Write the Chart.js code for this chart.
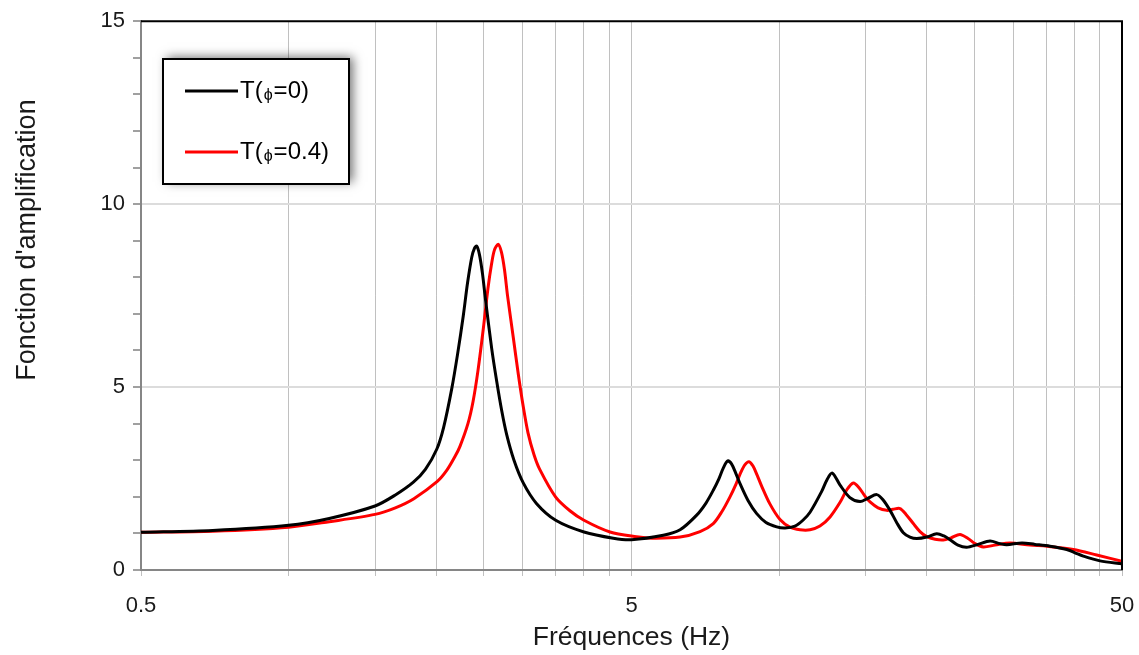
<!DOCTYPE html>
<html><head><meta charset="utf-8">
<script src="https://cdn.jsdelivr.net/npm/chart.js@4.4.1/dist/chart.umd.min.js"></script>
<style>html,body{margin:0;padding:0;background:#fff;} #wrap{width:1139px;height:655px;}</style>
</head><body><div id="wrap"><canvas id="c" width="1139" height="655"></canvas></div>
<script>
// ---- data ----
const seriesNames = ['T(ϕ=0)', 'T(ϕ=0.4)'];
const freqBlack = [0.5,0.7,1.0,1.21,1.5,1.65,1.796,1.9,2.004,2.07,2.15,2.21,2.27,2.316,2.362,2.393,2.418,2.449,2.484,2.519,2.594,2.656,2.719,2.783,2.88,3.008,3.2,3.503,4.0,4.59,5.0,5.805,6.281,6.79,7.093,7.34,7.54,7.70,7.855,7.996,8.148,8.322,8.64,9.0,9.401,9.885,10.28,10.77,11.18,11.56,12.21,12.52,12.83,13.31,13.94,14.62,15.17,15.81,16.28,16.83,17.39,17.91,18.48,19.08,20.0,20.95,21.68,22.3,23.15,24.12,25.43,26.91,28.2,29.1,31.27,33.23,35.66,38.57,40.11,41.7,45.1,50];
const ampBlack  = [1.03,1.08,1.22,1.41,1.75,2.05,2.4,2.75,3.3,3.9,4.95,5.9,6.95,7.85,8.55,8.8,8.85,8.62,8.1,7.4,6.05,5.15,4.35,3.7,3.0,2.38,1.82,1.36,1.04,0.87,0.83,0.95,1.1,1.5,1.83,2.18,2.5,2.8,2.98,2.9,2.66,2.36,1.9,1.54,1.3,1.18,1.15,1.2,1.36,1.58,2.15,2.47,2.65,2.32,1.98,1.87,1.96,2.06,1.92,1.63,1.28,1.02,0.9,0.86,0.9,0.99,0.93,0.83,0.68,0.62,0.7,0.79,0.72,0.69,0.74,0.7,0.65,0.56,0.47,0.38,0.25,0.17];
const freqRed = [0.5,0.7,1.0,1.21,1.5,1.65,1.8,2.0095,2.1,2.183,2.235,2.32,2.376,2.432,2.494,2.549,2.591,2.628,2.675,2.716,2.755,2.794,2.871,2.939,3.005,3.076,3.164,3.25,3.5,3.745,4.0,4.52,5.12,5.5,6.281,6.898,7.34,7.646,7.939,8.167,8.361,8.519,8.68,8.845,9.013,9.206,9.58,10.04,10.52,11.03,11.56,12.11,12.70,13.31,13.75,14.17,14.55,14.96,15.32,15.91,16.57,17.07,17.64,18.14,18.77,19.37,20.0,20.79,21.61,22.41,23.37,24.27,25.08,26.07,27.54,29.57,32.47,35.16,39.79,44.4,50];
const ampRed   = [1.03,1.06,1.17,1.32,1.52,1.7,1.95,2.42,2.72,3.1,3.38,4.0,4.6,5.45,6.6,7.7,8.35,8.75,8.9,8.68,8.2,7.5,6.35,5.35,4.5,3.75,3.15,2.75,2.0,1.62,1.36,1.04,0.91,0.87,0.9,1.05,1.27,1.6,2.0,2.35,2.68,2.88,2.96,2.84,2.6,2.3,1.8,1.38,1.17,1.1,1.10,1.2,1.45,1.85,2.2,2.38,2.25,2.02,1.86,1.7,1.63,1.66,1.68,1.52,1.27,1.05,0.91,0.84,0.82,0.88,0.97,0.86,0.72,0.63,0.68,0.74,0.68,0.65,0.56,0.41,0.24];
const xTickValues = [0.5,1,1.5,2,2.5,3,3.5,4,4.5,5,10,15,20,25,30,35,40,45,50];
const xLabelValues = [0.5,5,50];
const yLabelValues = [0,5,10,15];
const xTitle = 'Fréquences (Hz)';
const yTitle = "Fonction d'amplification";
const seriesColors = ['#000000', '#ff0000'];

const FONT = "'Liberation Sans', Arial, sans-serif";
Chart.defaults.font.family = FONT;
Chart.defaults.color = '#1a1a1a';

function pts(xs, ys){ return xs.map((x,i)=>({x:x, y:ys[i]})); }

const framePlugin = {
  id:'frame',
  afterDatasetsDraw(chart){
    const a = chart.chartArea, ctx = chart.ctx;
    ctx.save();
    ctx.strokeStyle = '#000'; ctx.lineWidth = 2;
    ctx.beginPath();
    ctx.moveTo(a.left, a.top); ctx.lineTo(a.right, a.top); ctx.lineTo(a.right, a.bottom);
    ctx.stroke();
    ctx.restore();
  }
};

const yTitlePlugin = {
  id:'ytitle',
  afterDraw(chart){
    const ctx = chart.ctx;
    ctx.save();
    ctx.translate(28, 240);
    ctx.rotate(-Math.PI/2);
    ctx.font = '27px ' + FONT;
    ctx.fillStyle = '#1a1a1a';
    ctx.textAlign = 'center'; ctx.textBaseline = 'middle';
    ctx.fillText(yTitle, 0, 0);
    ctx.restore();
  }
};

const legendPlugin = {
  id:'boxlegend',
  afterDraw(chart){
    const ctx = chart.ctx;
    const bx = 163, by = 59, bw = 186, bh = 125;
    ctx.save();
    ctx.shadowColor = 'rgba(0,0,0,0.55)';
    ctx.shadowBlur = 10; ctx.shadowOffsetX = 4; ctx.shadowOffsetY = -2;
    ctx.fillStyle = '#fff';
    ctx.fillRect(bx, by, bw, bh);
    ctx.restore();
    ctx.save();
    ctx.strokeStyle = '#000'; ctx.lineWidth = 2;
    ctx.strokeRect(bx, by, bw, bh);
    const rows = [91, 152];
    chart.data.datasets.forEach((ds, i) => {
      const y = rows[i];
      ctx.strokeStyle = ds.borderColor; ctx.lineWidth = 3;
      ctx.beginPath(); ctx.moveTo(185, y); ctx.lineTo(238, y); ctx.stroke();
      const parts = ds.label.split('ϕ');
      let x = 240;
      ctx.fillStyle = '#000'; ctx.textBaseline = 'middle'; ctx.textAlign = 'left';
      ctx.font = '24px ' + FONT;
      ctx.fillText(parts[0], x, y); x += ctx.measureText(parts[0]).width + 1;
      ctx.font = '16px ' + FONT;
      ctx.fillText('ϕ', x, y + 5); x += ctx.measureText('ϕ').width + 1;
      ctx.font = '24px ' + FONT;
      ctx.fillText(parts[1], x, y);
    });
    ctx.restore();
  }
};

new Chart(document.getElementById('c'), {
  type: 'line',
  data: {
    datasets: [
      { label: seriesNames[0], data: pts(freqBlack, ampBlack), borderColor: seriesColors[0], backgroundColor: seriesColors[0], borderWidth: 3, pointRadius: 0, tension: 0.3, fill: false },
      { label: seriesNames[1], data: pts(freqRed, ampRed), borderColor: seriesColors[1], backgroundColor: seriesColors[1], borderWidth: 3, pointRadius: 0, tension: 0.3, fill: false }
    ]
  },
  options: {
    responsive: false,
    devicePixelRatio: 1,
    animation: false,
    layout: { padding: { left: 0, top: 19, right: 17, bottom: 0 } },
    plugins: { legend: { display: false }, tooltip: { enabled: false } },
    scales: {
      x: {
        type: 'logarithmic', min: 0.5, max: 50,
        afterBuildTicks(scale){ scale.ticks = xTickValues.map(v => ({ value: v })); },
        afterFit(scale){ scale.height = 85; scale.paddingLeft = 0; scale.paddingRight = 0; },
        ticks: {
          autoSkip: false, maxRotation: 0, padding: 17,
          font: { size: 22 }, color: '#1a1a1a',
          callback: (v) => xLabelValues.includes(v) ? String(v) : ''
        },
        grid: { color: '#c0c0c0', lineWidth: 1, tickLength: 6, tickColor: '#c0c0c0', drawTicks: true },
        border: { color: '#868686', width: 2 },
        title: { display: true, text: xTitle, font: { size: 26.5 }, color: '#1a1a1a', padding: { top: 0, bottom: 1 } }
      },
      y: {
        type: 'linear', min: 0, max: 15,
        afterFit(scale){ scale.width = 141; },
        ticks: {
          stepSize: 1, autoSkip: false, padding: 8,
          font: { size: 22 }, color: '#1a1a1a',
          callback: (v) => yLabelValues.includes(v) ? String(v) : ''
        },
        grid: {
          color: (c) => (c.tick && (c.tick.value === 5 || c.tick.value === 10)) ? '#dcdcdc' : 'rgba(0,0,0,0)',
          lineWidth: 2, tickLength: 8, tickColor: '#a0a0a0', drawTicks: true
        },
        border: { color: '#868686', width: 2 }
      }
    }
  },
  plugins: [framePlugin, yTitlePlugin, legendPlugin]
});
</script></body></html>
